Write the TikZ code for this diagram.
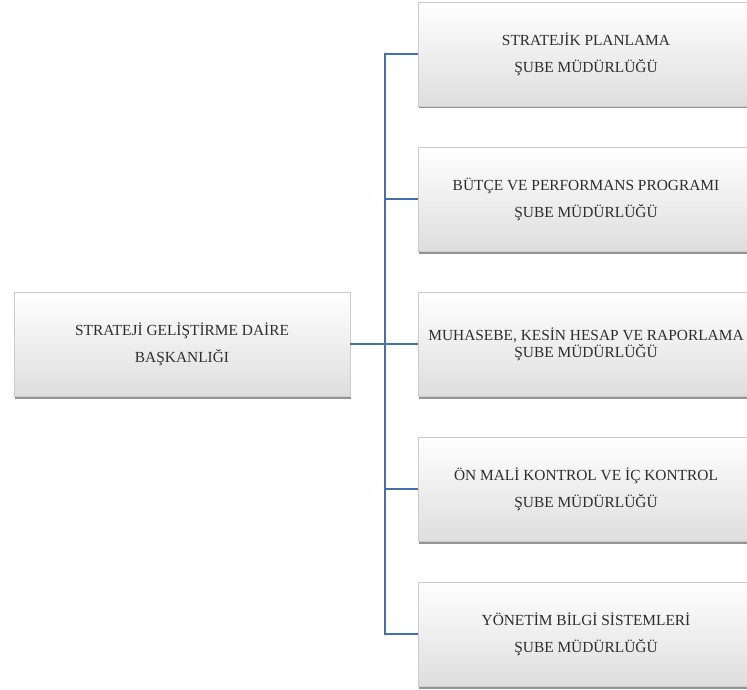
\documentclass[tikz,border=0pt]{standalone}
\usepackage{fontspec}
\setmainfont{Liberation Serif}
\usetikzlibrary{shadows}
\definecolor{linkblue}{RGB}{70,112,172}
\definecolor{textgray}{RGB}{45,45,45}

\begin{document}
\begin{tikzpicture}[
        x=1pt, y=1pt,
        node distance=145pt,
        block/.style={
            rectangle,
            minimum width=336pt,
            minimum height=104pt,
            inner sep=0pt,
            align=center,
            draw=black!20,
            top color=white,
            bottom color=black!13,
            drop shadow={shadow xshift=0.8pt, shadow yshift=-2.5pt, fill=black!60, opacity=0.7},
            text=textgray,
            font=\fontsize{15.4}{27}\selectfont
        },
        link/.style={draw=linkblue, line width=1.5pt}
    ]

    \useasboundingbox (0,0) rectangle (747,-690);

    % Nodes
    \node (daire) [block] at (182,-344) {STRATEJİ GELİŞTİRME DAİRE\\BAŞKANLIĞI};

    \node (plan) [block] at (586,-54) {STRATEJİK PLANLAMA\\ŞUBE MÜDÜRLÜĞÜ};

    \node (butce) [block, below of=plan] {BÜTÇE VE PERFORMANS PROGRAMI\\ŞUBE MÜDÜRLÜĞÜ};

    \node (muhasebe) [block, below of=butce] {MUHASEBE, KESİN HESAP VE RAPORLAMA\\[-10pt]ŞUBE MÜDÜRLÜĞÜ};

    \node (kontrol) [block, below of=muhasebe] {ÖN MALİ KONTROL VE İÇ KONTROL\\ŞUBE MÜDÜRLÜĞÜ};

    \node (bilgi) [block, below of=kontrol] {YÖNETİM BİLGİ SİSTEMLERİ\\ŞUBE MÜDÜRLÜĞÜ};

    \coordinate (bus) at (385,-344);

    % Lines
    \draw[link] (daire.east) -- (bus);
    \draw[link] (bus) |- (plan.west);
    \draw[link] (bus) |- (butce.west);
    \draw[link] (bus) -- (muhasebe.west);
    \draw[link] (bus) |- (kontrol.west);
    \draw[link] (bus) |- (bilgi.west);

    \end{tikzpicture}
\end{document}
